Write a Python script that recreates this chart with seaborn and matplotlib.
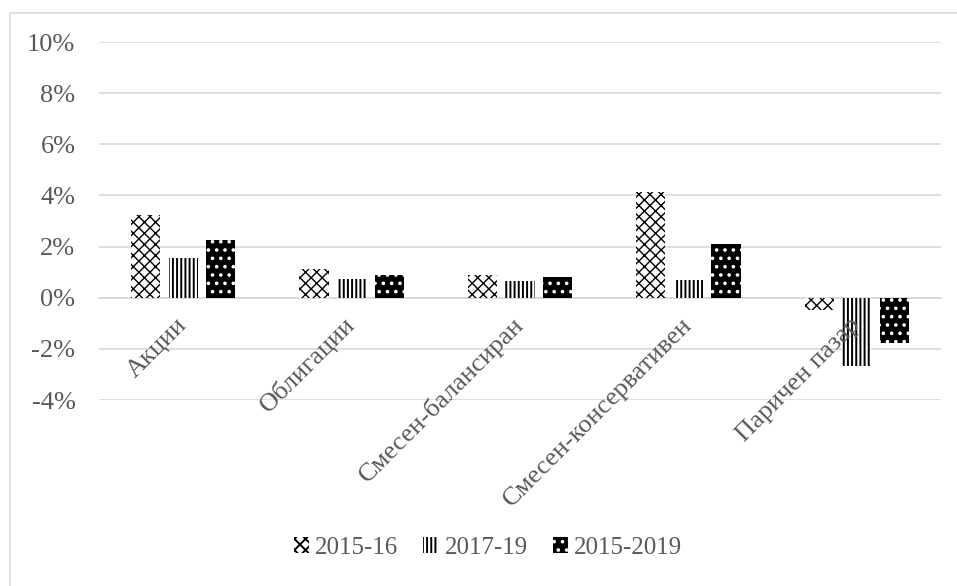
import matplotlib
matplotlib.use("Agg")
import matplotlib.pyplot as plt
from matplotlib.patches import Rectangle, Patch
from matplotlib.ticker import PercentFormatter
import seaborn as sns
import pandas as pd

# Fund categories and average returns per period (in %)
categories = ["Акции", "Облигации", "Смесен-балансиран", "Смесен-консервативен", "Паричен пазар"]
periods = ["2015-16", "2017-19", "2015-2019"]
ret_2015_16 = [3.24, 1.13, 0.90, 4.14, -0.47]
ret_2017_19 = [1.56, 0.74, 0.67, 0.70, -2.66]
ret_2015_2019 = [2.27, 0.90, 0.82, 2.10, -1.76]

df = pd.DataFrame({
    "category": categories * 3,
    "period": [periods[0]] * 5 + [periods[1]] * 5 + [periods[2]] * 5,
    "value": ret_2015_16 + ret_2017_19 + ret_2015_2019,
})

sns.set_theme(style="white")
plt.rcParams["font.family"] = ["Liberation Serif", "DejaVu Serif"]
plt.rcParams["axes.unicode_minus"] = False
plt.rcParams["hatch.linewidth"] = 1.4

text_gray = "#595959"
grid_gray = "#d9d9d9"
fs = 19

fig = plt.figure(figsize=(9.57, 5.86), dpi=100)
ax = fig.add_axes([99 / 957, 1 - 400 / 586, (941 - 99) / 957, (400 - 42) / 586])

sns.barplot(data=df, x="category", y="value", hue="period", order=categories,
            hue_order=periods, width=0.67, gap=0.22, ax=ax, legend=False,
            palette=["white", "white", "black"], linewidth=0)

# pattern fills for each period
styles = [
    dict(facecolor="white", edgecolor="black", hatch="xxx", hlw=1.0),
    dict(facecolor="white", edgecolor="black", hatch="||||", hlw=1.4),
    dict(facecolor="black", edgecolor="white", hatch="..", hlw=1.4),
]


def apply_style(patch, st):
    patch.set_facecolor(st["facecolor"])
    patch.set_edgecolor(st["edgecolor"])
    patch.set_hatch(st["hatch"])
    patch.set_linewidth(0)
    if hasattr(patch, "set_hatch_linewidth"):
        patch.set_hatch_linewidth(st["hlw"])


for container, st in zip(ax.containers, styles):
    for bar in container:
        apply_style(bar, st)

ax.set_ylim(-4, 10)
ax.set_xlim(-0.5, 4.5)
ax.set_yticks([-4, -2, 0, 2, 4, 6, 8, 10])
ax.yaxis.set_major_formatter(PercentFormatter(decimals=0))
ax.yaxis.grid(True, color=grid_gray, linewidth=1.2)
ax.set_axisbelow(True)
# category labels sit on top of the bars
ax.xaxis.set_zorder(5)
for s in ["top", "right", "left"]:
    ax.spines[s].set_visible(False)
ax.spines["bottom"].set_position(("data", 0))
ax.spines["bottom"].set_color(grid_gray)
ax.spines["bottom"].set_linewidth(1.2)
ax.spines["bottom"].set_zorder(0.6)
ax.set_xlabel("")
ax.set_ylabel("")
ax.tick_params(axis="both", length=0, colors=text_gray, labelsize=fs)
ax.tick_params(axis="y", pad=17)
ax.tick_params(axis="x", pad=17)
for lab in ax.get_xticklabels():
    lab.set_rotation(45)
    lab.set_ha("right")
    lab.set_va("center")
    lab.set_rotation_mode("anchor")
    lab.set_color(text_gray)

# legend at the bottom of the chart area
handles = []
for st in styles:
    h = Patch()
    apply_style(h, st)
    handles.append(h)
fig.legend(handles, periods, loc="center", bbox_to_anchor=(488 / 957, 1 - 548 / 586),
           ncol=3, frameon=False, fontsize=18, labelcolor=text_gray,
           handlelength=0.6, handleheight=0.6, handletextpad=0.25, columnspacing=1.0)

# chart-area border
fig.patches.append(Rectangle((10 / 957, -0.05), 1.05, 1 - 13 / 586 + 0.05,
                             transform=fig.transFigure, fill=False,
                             edgecolor=grid_gray, linewidth=1.2))

fig.savefig("out.png", dpi=100, facecolor="white")
